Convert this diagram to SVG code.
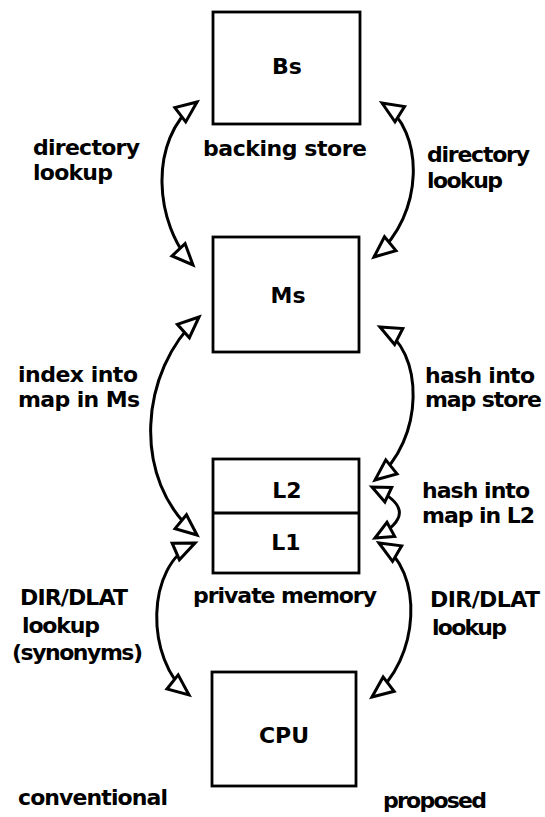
<svg xmlns="http://www.w3.org/2000/svg" width="545" height="817" viewBox="0 0 545 817">
<style>
text{font-family:"DejaVu Sans","Liberation Sans",sans-serif;font-size:22px;font-weight:bold;fill:#000}
.box{fill:#fff;stroke:#000;stroke-width:2.8}
.arc{fill:none;stroke:#000;stroke-width:3;marker-start:url(#ah);marker-end:url(#ah)}
.arc.small{marker-start:url(#ahs);marker-end:url(#ahs)}
</style>
<defs>
<marker id="ah" markerUnits="userSpaceOnUse" orient="auto-start-reverse" refX="0" refY="0" markerWidth="40" markerHeight="40" overflow="visible">
<path d="M0,0 L-21,-9 L-21,9 Z" fill="#fff" stroke="#000" stroke-width="3" stroke-linejoin="miter"/>
</marker>
<marker id="ahs" markerUnits="userSpaceOnUse" orient="auto-start-reverse" refX="0" refY="0" markerWidth="40" markerHeight="40" overflow="visible">
<path d="M0,0 L-18,-8 L-18,8 Z" fill="#fff" stroke="#000" stroke-width="3" stroke-linejoin="miter"/>
</marker>
</defs>
<rect width="545" height="817" fill="#fff"/>
<g id="connectors">
<path class="arc" d="M197,102 C147,140 155,225 193,265"/>
<path class="arc" d="M382,103 C425,130 425,215 374,257"/>
<path class="arc" d="M199,317 C140,370 130,480 197,535"/>
<path class="arc" d="M380,327 C425,350 425,440 375,480"/>
<path class="arc small" d="M372,487 C408,504 408,520 375,538"/>
<path class="arc" d="M195,543 C145,565 145,660 189,695"/>
<path class="arc" d="M379,543 C425,570 420,660 372,697"/>
</g>
<g id="Bs">
<rect class="box" x="213" y="12" width="147" height="112"/>
<text x="287" y="74" text-anchor="middle">Bs</text>
<text x="203" y="156" textLength="164">backing store</text>
</g>
<g id="Ms">
<rect class="box" x="213" y="237" width="146" height="115"/>
<text x="288" y="303" text-anchor="middle">Ms</text>
</g>
<g id="private-memory">
<rect class="box" x="213" y="459" width="146" height="114"/>
<line x1="213" y1="513" x2="359" y2="513" stroke="#000" stroke-width="2.8"/>
<text x="287" y="498" text-anchor="middle">L2</text>
<text x="286" y="550" text-anchor="middle">L1</text>
<text x="193" y="603" textLength="184">private memory</text>
</g>
<g id="CPU">
<rect class="box" x="212" y="672" width="144" height="114"/>
<text x="284" y="743" text-anchor="middle">CPU</text>
</g>
<g id="labels">
<text x="33" y="155" textLength="107">directory</text>
<text x="33" y="180" textLength="80">lookup</text>
<text x="427" y="162" textLength="103">directory</text>
<text x="427" y="188" textLength="76">lookup</text>
<text x="18" y="382" textLength="120">index into</text>
<text x="18" y="407" textLength="122">map in Ms</text>
<text x="425" y="383" textLength="110">hash into</text>
<text x="425" y="407" textLength="117">map store</text>
<text x="422" y="498" textLength="108">hash into</text>
<text x="422" y="523" textLength="113">map in L2</text>
<text x="20" y="605" textLength="108">DIR/DLAT</text>
<text x="22" y="633" textLength="78">lookup</text>
<text x="12" y="660" textLength="131">(synonyms)</text>
<text x="430" y="607" textLength="110">DIR/DLAT</text>
<text x="432" y="635" textLength="75">lookup</text>
<text x="18" y="805" textLength="150">conventional</text>
<text x="383" y="808" textLength="104">proposed</text>
</g>
</svg>
